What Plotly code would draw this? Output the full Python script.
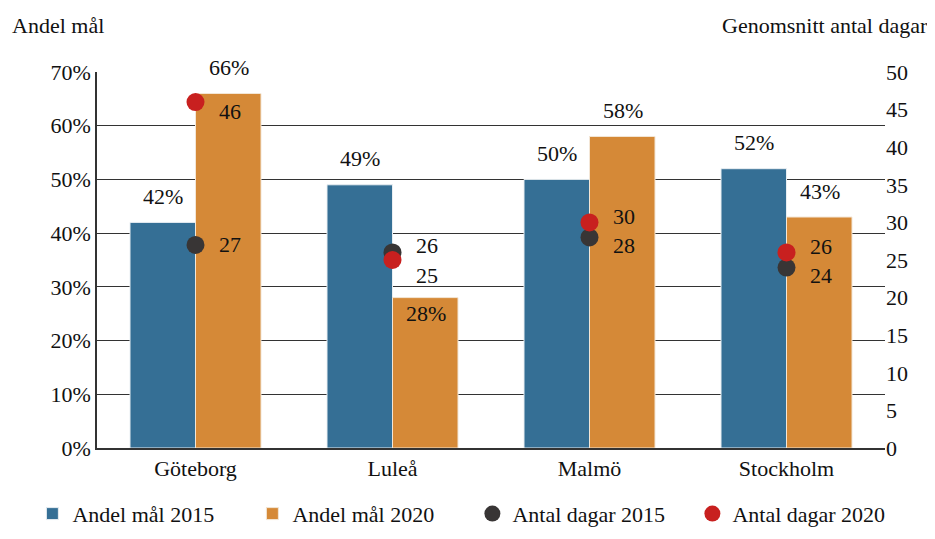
import plotly.graph_objects as go

# data
cities = ["Göteborg", "Luleå", "Malmö", "Stockholm"]
andel_2015 = [42, 49, 50, 52]
andel_2020 = [66, 28, 58, 43]
dagar_2015 = [27, 26, 28, 24]
dagar_2020 = [46, 25, 30, 26]

# label offsets (pixels) for the day counts
shift_2015 = [0, 7, -8, -8]
shift_2020 = [-9, -15, 6, 6]

FONT = "Liberation Serif"
BLUE = "#356f95"
ORANGE = "#d58937"
DARK = "#383535"
RED = "#c8201f"
TXT = "#111111"
FS = 22

fig = go.Figure()

fig.add_trace(go.Bar(
    x=cities, y=andel_2015, name="Andel mål 2015",
    marker=dict(color=BLUE, line=dict(color="#e8eef2", width=1)),
))
fig.add_trace(go.Bar(
    x=cities, y=andel_2020, name="Andel mål 2020",
    marker=dict(color=ORANGE, line=dict(color="#f3e6d6", width=1)),
))
fig.add_trace(go.Scatter(
    x=cities, y=dagar_2015, name="Antal dagar 2015", yaxis="y2",
    mode="markers", marker=dict(color=DARK, size=18), cliponaxis=False,
))
fig.add_trace(go.Scatter(
    x=cities, y=dagar_2020, name="Antal dagar 2020", yaxis="y2",
    mode="markers", marker=dict(color=RED, size=18), cliponaxis=False,
))

annotations = []
for c, v in zip(cities, andel_2015):
    annotations.append(dict(x=c, y=v, xref="x", yref="y", text=f"{v}%",
                            xshift=-33, yshift=26, showarrow=False))
for c, v in zip(cities, andel_2020):
    inside = v < 30
    annotations.append(dict(x=c, y=v, xref="x", yref="y", text=f"{v}%",
                            xshift=33, yshift=-16 if inside else 26, showarrow=False))
for c, v, s in zip(cities, dagar_2015, shift_2015):
    annotations.append(dict(x=c, y=v, xref="x", yref="y2", text=str(v),
                            xshift=34, yshift=s, showarrow=False))
for c, v, s in zip(cities, dagar_2020, shift_2020):
    annotations.append(dict(x=c, y=v, xref="x", yref="y2", text=str(v),
                            xshift=34, yshift=s, showarrow=False))

annotations += [
    dict(text="Andel mål", xref="paper", yref="paper", x=-0.11, y=1.125,
         xanchor="left", yanchor="middle", showarrow=False),
    dict(text="Genomsnitt antal dagar", xref="paper", yref="paper", x=1.057, y=1.125,
         xanchor="right", yanchor="middle", showarrow=False),
]

fig.update_layout(
    width=935, height=539,
    margin=dict(l=89, r=58, t=64, b=99),
    paper_bgcolor="white", plot_bgcolor="white",
    font=dict(family=FONT, size=FS, color=TXT),
    barmode="group", bargap=0.335, bargroupgap=0.0,
    xaxis=dict(showline=True, linecolor="#333", linewidth=1.5,
               ticks="", automargin=False),
    yaxis=dict(range=[0, 70], dtick=10, ticksuffix="%",
               showgrid=True, gridcolor="#333", gridwidth=1.3,
               showline=True, linecolor="#333", linewidth=1.5,
               zeroline=False, ticklen=0, automargin=False),
    yaxis2=dict(range=[0, 50], dtick=5, overlaying="y", side="right",
                showgrid=False, zeroline=False, ticklen=0, automargin=False),
    legend=dict(orientation="h", x=-0.082, xanchor="left",
                y=-0.175, yanchor="middle",
                font=dict(size=FS), traceorder="normal",
                entrywidth=175, entrywidthmode="pixels"),
    annotations=annotations,
)

fig.write_html("out.html")
